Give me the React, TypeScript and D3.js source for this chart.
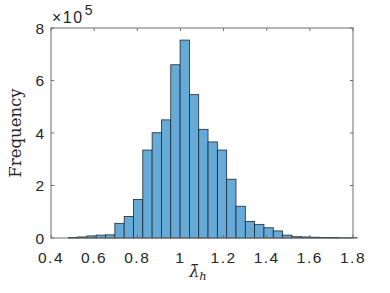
import React from 'react'
import * as d3 from 'd3'

// histogram bins (MATLAB auto binning), counts in units of 1e5
const binStart = 0.48
const binWidth = 0.0432
const counts = [
	0.02, 0.04, 0.08, 0.11, 0.12, 0.56, 0.82, 1.47, 3.35, 4.01, 4.5, 6.6, 7.54, 5.46, 4.14, 3.66,
	3.35, 2.24, 1.21, 0.63, 0.52, 0.39, 0.27, 0.11, 0.05, 0.04, 0.03, 0.02, 0.02, 0.01, 0.01,
]
const xTicks = [0.4, 0.6, 0.8, 1, 1.2, 1.4, 1.6, 1.8]
const yTicks = [0, 2, 4, 6, 8]

const width = 390
const height = 293
const margin = { top: 28, right: 37, bottom: 55, left: 51 }

const App = () => {
	const x = d3
		.scaleLinear()
		.domain([0.4, 1.8])
		.range([margin.left, width - margin.right])
	const y = d3
		.scaleLinear()
		.domain([0, 8])
		.range([height - margin.bottom, margin.top])

	const bins = counts.map((c, i) => ({
		x0: binStart + i * binWidth,
		x1: binStart + (i + 1) * binWidth,
		value: c,
	}))

	const x0 = x.range()[0],
		x1 = x.range()[1]
	const y0 = y.range()[0],
		y1 = y.range()[1]
	const tickLen = 3
	const axisColor = '#6e6e6e'
	const sans = '"Liberation Sans", Arial, Helvetica, sans-serif'
	const serif = '"DejaVu Serif", "Liberation Serif", serif'
	const fs = 15.5

	return (
		<svg
			width={width}
			height={height}
			style={{ position: 'absolute', left: 0, top: 0, background: '#fff' }}
		>
			{bins.map((b, i) => (
				<rect
					key={i}
					x={x(b.x0)}
					y={y(b.value)}
					width={x(b.x1) - x(b.x0)}
					height={y(0) - y(b.value)}
					fill="#66aad7"
					stroke="#1f2a33"
					strokeWidth={0.8}
				/>
			))}

			{/* box */}
			<rect
				x={x0}
				y={y1}
				width={x1 - x0}
				height={y0 - y1}
				fill="none"
				stroke={axisColor}
				strokeWidth={1}
			/>

			{xTicks.map(t => (
				<g key={'x' + t}>
					<line x1={x(t)} x2={x(t)} y1={y0} y2={y0 - tickLen} stroke={axisColor} />
					<line x1={x(t)} x2={x(t)} y1={y1} y2={y1 + tickLen} stroke={axisColor} />
					<text
						x={x(t)}
						y={y0 + 24.5}
						textAnchor="middle"
						fontFamily={sans}
						fontSize={fs}
						letterSpacing={1.5}
						fill="#262626"
					>
						{t}
					</text>
				</g>
			))}

			{yTicks.map(t => (
				<g key={'y' + t}>
					<line x1={x0} x2={x0 + tickLen} y1={y(t)} y2={y(t)} stroke={axisColor} />
					<line x1={x1} x2={x1 - tickLen} y1={y(t)} y2={y(t)} stroke={axisColor} />
					<text
						x={x0 - 7}
						y={y(t)}
						dy="0.36em"
						textAnchor="end"
						fontFamily={sans}
						fontSize={fs}
						fill="#262626"
					>
						{t}
					</text>
				</g>
			))}

			{/* exponent label */}
			<text
				x={x0 + 1}
				y={23}
				fontFamily={sans}
				fontSize={16}
				letterSpacing={1.5}
				fill="#262626"
			>
				×10
				<tspan fontSize={14} dy={-8} dx={1}>
					5
				</tspan>
			</text>

			{/* axis labels */}
			<text
				transform={`translate(21,${(y0 + y1) / 2}) rotate(-90)`}
				textAnchor="middle"
				fontFamily={serif}
				fontSize={16.5}
				fill="#262626"
			>
				Frequency
			</text>
			<text
				x={(x0 + x1) / 2 - 4}
				y={277}
				textAnchor="middle"
				fontFamily={serif}
				fontStyle="italic"
				fontSize={16}
				fill="#262626"
			>
				λ̄
				<tspan fontSize={11.5} dy={3}>
					h
				</tspan>
			</text>
		</svg>
	)
}

export default App
